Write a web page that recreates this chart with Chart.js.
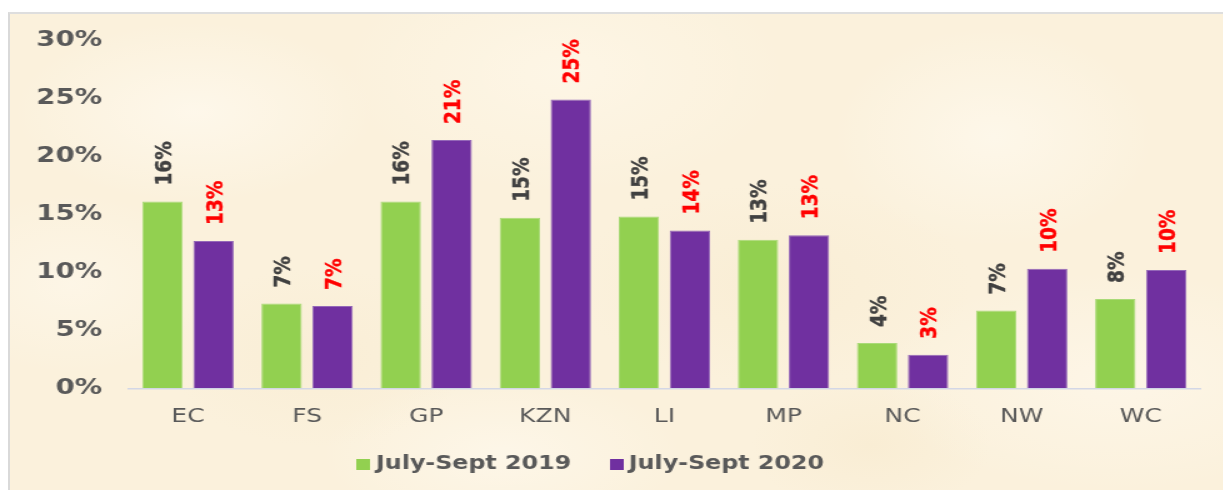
<!DOCTYPE html>
<html>
<head>
<meta charset="utf-8">
<script src="https://cdn.jsdelivr.net/npm/chart.js@4/dist/chart.umd.min.js"></script>
<style>
  html, body { margin: 0; padding: 0; width: 1223px; height: 490px; overflow: hidden; background: #ffffff; }
  #frame {
    position: absolute; left: 8px; top: 12px; width: 1230px; height: 490px;
    border-left: 2px solid #d9d9d9; border-top: 2px solid #dedede;
    background-color: #fbf1dc;
    background-image:
      radial-gradient(ellipse 180px 90px at 15% 20%, rgba(255,250,240,0.7), rgba(255,250,240,0) 100%),
      radial-gradient(ellipse 220px 120px at 45% 12%, rgba(255,249,236,0.6), rgba(255,249,236,0) 100%),
      radial-gradient(ellipse 160px 110px at 80% 25%, rgba(255,251,242,0.6), rgba(255,251,242,0) 100%),
      radial-gradient(ellipse 200px 100px at 62% 55%, rgba(247,233,204,0.45), rgba(247,233,204,0) 100%),
      radial-gradient(ellipse 150px 90px at 25% 70%, rgba(247,233,204,0.4), rgba(247,233,204,0) 100%),
      radial-gradient(ellipse 240px 110px at 90% 75%, rgba(255,249,238,0.6), rgba(255,249,238,0) 100%),
      radial-gradient(ellipse 180px 80px at 40% 90%, rgba(255,250,240,0.6), rgba(255,250,240,0) 100%),
      radial-gradient(ellipse 140px 90px at 5% 55%, rgba(255,250,240,0.5), rgba(255,250,240,0) 100%),
      radial-gradient(ellipse 120px 70px at 70% 88%, rgba(246,231,200,0.4), rgba(246,231,200,0) 100%);
  }
  #c { position: absolute; left: 0; top: 0; transform-origin: 0 0; transform: scaleX(1.25); }
</style>
</head>
<body>
<div id="frame"></div>
<canvas id="c" width="980" height="490"></canvas>
<script>
// ---- data ----
const categories = ['EC', 'FS', 'GP', 'KZN', 'LI', 'MP', 'NC', 'NW', 'WC'];
const seriesNames = ['July-Sept 2019', 'July-Sept 2020'];
const values2019 = [16.1, 7.3, 16.1, 14.7, 14.8, 12.8, 3.9, 6.7, 7.7];
const values2020 = [12.7, 7.1, 21.4, 24.9, 13.6, 13.2, 2.9, 10.3, 10.2];
const yTicks = [0, 5, 10, 15, 20, 25, 30];

// ---- styles ----
const barColors = ['#92d050', '#7030a0'];
const barBorders = ['#a9da78', '#9468b8'];
const labelColors = ['#404040', '#ff0000'];
const FONT = '"DejaVu Sans", Verdana, sans-serif';

function swatch(color) {
  const c = document.createElement('canvas');
  c.width = 11; c.height = 11;
  const g = c.getContext('2d');
  g.fillStyle = color; g.fillRect(0, 0, 11, 11);
  return c;
}
const swatches = barColors.map(swatch);

const valueLabels = {
  id: 'valueLabels',
  afterDatasetsDraw(chart) {
    const ctx = chart.ctx;
    chart.data.datasets.forEach((ds, di) => {
      const meta = chart.getDatasetMeta(di);
      meta.data.forEach((bar, i) => {
        const txt = Math.round(ds.data[i]) + '%';
        ctx.save();
        ctx.translate(bar.x + 2, bar.y - 16);
        ctx.rotate(-Math.PI / 2);
        ctx.font = 'bold 18.5px ' + FONT;
        ctx.fillStyle = labelColors[di];
        ctx.strokeStyle = labelColors[di];
        ctx.lineWidth = 0.4;
        ctx.textAlign = 'left';
        ctx.textBaseline = 'middle';
        ctx.fillText(txt, 0, 0);
        ctx.strokeText(txt, 0, 0);
        ctx.restore();
      });
    });
  }
};

const legendPlace = {
  id: 'legendPlace',
  afterLayout(chart) {
    const lg = chart.legend;
    if (!lg || !lg.lineWidths) return;
    const pad = lg.options.labels.padding;
    const start = (lg.left + pad + lg.right - lg.lineWidths[0]) / 2;
    const d = 290.3 - start;
    lg.left += d; lg.right += d;
    const dy = 418.9 - lg.top;
    lg.top += dy; lg.bottom += dy;
  }
};

new Chart(document.getElementById('c'), {
  type: 'bar',
  data: {
    labels: categories,
    datasets: [
      { label: seriesNames[0], data: values2019, backgroundColor: barColors[0], borderColor: barBorders[0], borderWidth: 1 },
      { label: seriesNames[1], data: values2020, backgroundColor: barColors[1], borderColor: barBorders[1], borderWidth: 1 }
    ]
  },
  options: {
    responsive: false,
    animation: false,
    devicePixelRatio: 1,
    layout: { padding: { top: 40.3, left: 0, right: 19.72, bottom: 0 } },
    datasets: { bar: { categoryPercentage: 0.856, barPercentage: 0.792 } },
    scales: {
      x: {
        grid: { display: false, drawTicks: false },
        border: { display: true, color: '#d3d7e6', width: 1.5 },
        ticks: { color: '#595959', font: { family: FONT, size: 20 }, padding: 16.6 },
        afterFit(scale) { scale.height = 37.1; }
      },
      y: {
        min: 0, max: 30,
        afterBuildTicks(scale) { scale.ticks = yTicks.map(v => ({ value: v })); },
        grid: { display: false, drawTicks: false },
        border: { display: false },
        ticks: { color: '#595959', font: { family: FONT, size: 22, weight: 'bold' }, padding: 21, callback: v => v + '%' },
        afterFit(scale) { scale.width = 102.76; }
      }
    },
    plugins: {
      tooltip: { enabled: false },
      legend: {
        position: 'bottom',
        labels: {
          color: '#595959',
          font: { family: FONT, size: 19, weight: 'bold' },
          padding: 35.6,
          usePointStyle: true,
          pointStyleWidth: 1,
          boxHeight: 11,
          generateLabels(chart) {
            const items = Chart.defaults.plugins.legend.labels.generateLabels(chart);
            items.forEach((it, i) => { it.pointStyle = swatches[i]; it.fontColor = '#595959'; it.lineWidth = 0; });
            return items;
          }
        }
      }
    }
  },
  plugins: [valueLabels, legendPlace]
});
</script>
</body>
</html>
